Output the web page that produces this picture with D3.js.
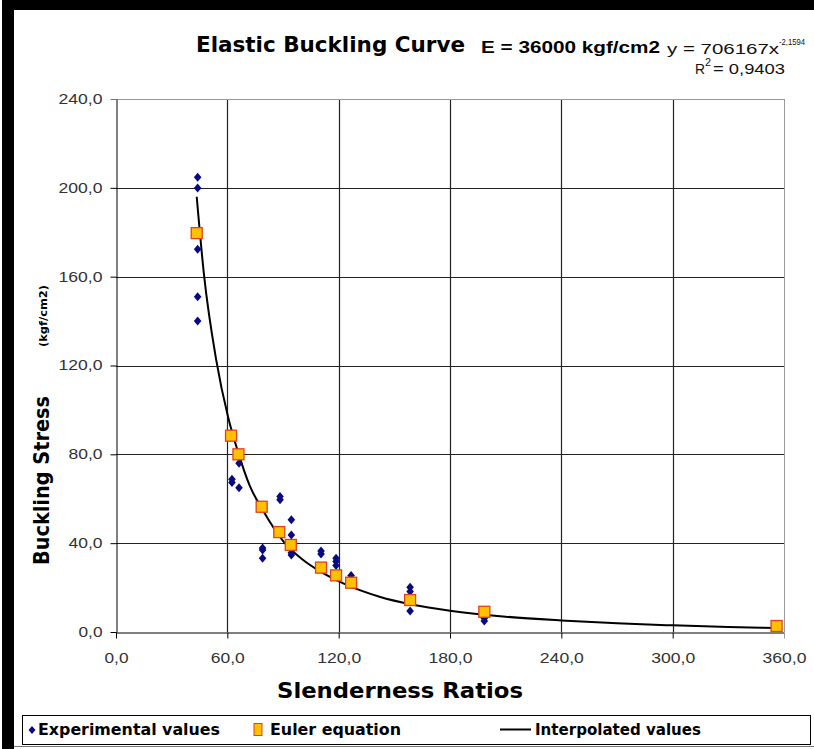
<!DOCTYPE html>
<html>
<head>
<meta charset="utf-8">
<script src="https://cdn.jsdelivr.net/npm/d3@7"></script>
<style>
  html, body { margin: 0; padding: 0; background: #fff; }
  svg { display: block; }
</style>
</head>
<body>
<svg width="814" height="749"></svg>
<script>
// experimental values (slenderness ratio, buckling stress)
var expX = [44, 44, 44, 44, 44, 62.5, 62.5, 66.3, 66.3, 79, 79, 79, 88.4, 88.4,
  94.5, 94.5, 94.5, 94.5, 110.5, 110.5, 118.6, 118.6, 118.6, 126.7,
  158.5, 158.5, 158.5, 198.5, 198.5]
var expY = [204.8, 199.9, 172.4, 151.0, 140.0, 68.8, 67.3, 76.0, 65.0, 37.8, 36.9, 33.2, 61.0, 59.5,
  50.5, 43.7, 35.7, 34.7, 36.5, 35.1, 33.2, 31.7, 29.9, 25.4,
  20.1, 18.2, 9.5, 6.2, 5.0]

// Euler equation points
var eulerX = [43.5, 62, 66, 78.5, 88, 94.2, 110.5, 118.6, 126.7, 158.5, 198.5, 356]
var eulerY = [179.6, 88.4, 80.0, 56.4, 45.0, 39.2, 29.0, 25.5, 22.2, 14.4, 9.1, 2.7]

// interpolated (trend) curve
var fitX = [43.5, 47.4, 53.9, 60.5, 65.8, 72, 79, 90.5, 100, 110, 122.5, 142, 160, 180, 210, 240, 270, 300, 330, 356]
var fitY = [196, 161, 123, 96.5, 81, 66, 55, 40.5, 33, 27.3, 21.9, 15.9, 12.3, 9.6, 6.9, 5.2, 3.9, 3.0, 2.3, 1.8]

var xTicks = [0, 60, 120, 180, 240, 300, 360]
var yTicks = [0, 40, 80, 120, 160, 200, 240]

var svg = d3.select("svg")
var fmt = function(d) { return d.toFixed(1).replace(".", ",") }
// the source picture is stretched sideways, so labels get a fixed width
var labelWidth = function(s) { return s.replace(",", "").length * 10 + 4 }
var labelFont = "Arial, 'Liberation Sans', sans-serif"
var boldFont = "Tahoma, 'DejaVu Sans Condensed', 'DejaVu Sans', sans-serif"

var x = d3.scaleLinear().domain([0, 360]).range([116, 784])
var y = d3.scaleLinear().domain([0, 240]).range([632, 99])

// page frame
svg.append("rect").attr("x", 2).attr("y", 0).attr("width", 812).attr("height", 10).attr("fill", "#000")
svg.append("rect").attr("x", 2).attr("y", 0).attr("width", 12).attr("height", 749).attr("fill", "#000")
svg.append("line").attr("x1", 14).attr("x2", 814).attr("y1", 746.5).attr("y2", 746.5)
  .attr("stroke", "#777").attr("stroke-width", 1)

// grid
var g = svg.append("g")
g.selectAll(".vgrid").data(xTicks.slice(1, -1)).enter().append("line")
  .attr("x1", d => Math.round(x(d)) + 0.5).attr("x2", d => Math.round(x(d)) + 0.5)
  .attr("y1", y(240)).attr("y2", y(0))
  .attr("stroke", "#222").attr("stroke-width", 1.2)
g.selectAll(".hgrid").data(yTicks.slice(1, -1)).enter().append("line")
  .attr("x1", x(0)).attr("x2", x(360))
  .attr("y1", d => Math.round(y(d)) + 0.5).attr("y2", d => Math.round(y(d)) + 0.5)
  .attr("stroke", "#222").attr("stroke-width", 1.2)

// plot border (top / right light gray)
g.append("line").attr("x1", x(0)).attr("x2", x(360)).attr("y1", y(240) + 0.5).attr("y2", y(240) + 0.5)
  .attr("stroke", "#999")
g.append("line").attr("x1", x(360) + 0.5).attr("x2", x(360) + 0.5).attr("y1", y(240)).attr("y2", y(0))
  .attr("stroke", "#999")

// axes
var xAxis = svg.append("g").attr("transform", "translate(0," + (y(0) + 0.5) + ")")
  .call(d3.axisBottom(x).tickValues(xTicks).tickFormat(fmt).tickSizeInner(6).tickSizeOuter(0).tickPadding(15))
var yAxis = svg.append("g").attr("transform", "translate(" + (x(0) + 0.5) + ",0)")
  .call(d3.axisLeft(y).tickValues(yTicks).tickFormat(fmt).tickSizeInner(6).tickSizeOuter(0).tickPadding(8))
;[xAxis, yAxis].forEach(a => {
  a.select(".domain").attr("stroke", "#000")
  a.selectAll(".tick line").attr("stroke", "#000")
  a.selectAll(".tick text").attr("fill", "#333").style("font-family", labelFont).style("font-size", "14px")
    .attr("textLength", d => labelWidth(fmt(d))).attr("lengthAdjust", "spacingAndGlyphs")
})
xAxis.select(".tick:last-of-type line").attr("stroke", "#999")
yAxis.select(".tick:last-of-type line").attr("stroke", "#777")

// interpolated curve
var line = d3.line().x((d, i) => x(fitX[i])).y((d, i) => y(fitY[i])).curve(d3.curveMonotoneX)
svg.append("path").datum(fitY).attr("d", line)
  .attr("fill", "none").attr("stroke", "#000").attr("stroke-width", 2)

// experimental diamonds
var diamondPath = "M0,-4.5L3.8,0L0,4.5L-3.8,0Z"
svg.selectAll(".exp").data(expY).enter().append("path")
  .attr("d", diamondPath)
  .attr("transform", (d, i) => "translate(" + x(expX[i]) + "," + y(d) + ")")
  .attr("fill", "#0a0a80")

// Euler squares
svg.selectAll(".euler").data(eulerY).enter().append("rect")
  .attr("x", (d, i) => x(eulerX[i]) - 5.5).attr("y", d => y(d) - 5.5)
  .attr("width", 11).attr("height", 11)
  .attr("fill", "#ffc000").attr("stroke", "#e0401a").attr("stroke-width", 1.3)

// titles
function txt(s, x0, y0, size, width, bold, font) {
  return svg.append("text").attr("x", x0).attr("y", y0).text(s)
    .style("font-family", font || labelFont).style("font-size", size + "px")
    .style("font-weight", bold ? "bold" : "normal")
    .attr("textLength", width).attr("lengthAdjust", "spacingAndGlyphs")
}
txt("Elastic Buckling Curve", 196, 52, 22, 269, true, boldFont)
txt("E = 36000 kgf/cm2", 481, 53, 16, 179, true)
txt("y = 706167x", 667, 54, 15, 112, false).attr("fill", "#111")
txt("-2,1594", 779, 45, 9.5, 26, false).attr("fill", "#111")
txt("R", 695, 74, 15, 10, false).attr("fill", "#111")
txt("2", 705, 66, 11, 6, false).attr("fill", "#111")
txt("= 0,9403", 713, 74, 15, 72, false).attr("fill", "#111")

txt("Slenderness Ratios", 277, 698, 22, 246, true, boldFont)

svg.append("text").attr("transform", "translate(49,565) rotate(-90)").text("Buckling Stress")
  .style("font-family", boldFont).style("font-weight", "bold").style("font-size", "21px")
  .attr("textLength", 169).attr("lengthAdjust", "spacingAndGlyphs")
svg.append("text").attr("transform", "translate(47,347) rotate(-90)").text("(kgf/cm2)")
  .style("font-family", boldFont).style("font-weight", "bold").style("font-size", "11px")
  .attr("textLength", 62).attr("lengthAdjust", "spacingAndGlyphs")

// legend
var lg = svg.append("g")
lg.append("rect").attr("x", 22.5).attr("y", 715.5).attr("width", 788).attr("height", 29)
  .attr("fill", "#fff").attr("stroke", "#000")
lg.append("path").attr("d", "M0,-4L3.5,0L0,4L-3.5,0Z")
  .attr("transform", "translate(32,730)").attr("fill", "#0a0a80")
lg.append("rect").attr("x", 254).attr("y", 723.5).attr("width", 8).attr("height", 12)
  .attr("fill", "#ffc000").attr("stroke", "#e0401a")
lg.append("line").attr("x1", 500).attr("x2", 531).attr("y1", 729.5).attr("y2", 729.5)
  .attr("stroke", "#000").attr("stroke-width", 2)
var legendText = [["Experimental values", 38, 182], ["Euler equation", 270, 131], ["Interpolated values", 535, 166]]
lg.selectAll(".lt").data(legendText).enter().append("text")
  .attr("x", d => d[1]).attr("y", 735).text(d => d[0])
  .attr("textLength", d => d[2]).attr("lengthAdjust", "spacingAndGlyphs")
  .style("font-family", boldFont).style("font-size", "15px").style("font-weight", "bold")
</script>
</body>
</html>
